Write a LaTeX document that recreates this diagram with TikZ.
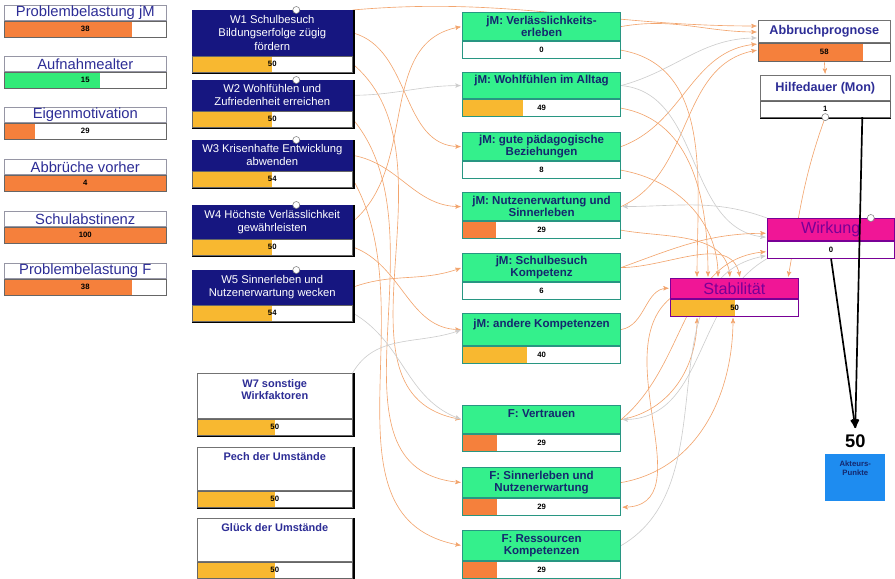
\documentclass[tikz,border=0pt]{standalone}
\usepackage{fontspec}
\setmainfont{Liberation Sans}
\usetikzlibrary{arrows, calc, backgrounds}
\definecolor{wnavy}{RGB}{22,22,128}
\definecolor{titlenavy}{RGB}{45,45,150}
\definecolor{jmgreen}{RGB}{52,240,140}
\definecolor{jmteal}{RGB}{40,150,130}
\definecolor{jmtext}{RGB}{20,40,110}
\definecolor{magbox}{RGB}{240,22,150}
\definecolor{magtext}{RGB}{120,0,150}
\definecolor{barorange}{RGB}{245,128,60}
\definecolor{baryellow}{RGB}{248,184,48}
\definecolor{bargreen}{RGB}{50,235,120}
\definecolor{apblue}{RGB}{30,140,240}
\definecolor{linkorange}{RGB}{242,165,110}
\definecolor{linkgray}{RGB}{205,205,205}
\definecolor{boxgray}{RGB}{150,150,165}
% box = title node (#1) + value row (#1v)
\newcommand\kbox[9]{%
  \node[#2, anchor=north west, minimum width=#5*0.025cm, minimum height=#6*0.025cm] (#1) at (#3,#4) {#7};
  \node[valrow, #8, anchor=north west, minimum width=#5*0.025cm] (#1v) at (#1.south west) {#9};}
\tikzset{lefttitle/.style={rectangle, draw=boxgray, fill=white, text=titlenavy, inner sep=0pt, font=\fontsize{10.5}{11}\selectfont}}
\tikzset{wtitle/.style={rectangle, draw=wnavy, fill=wnavy, text=white, inner sep=0pt, align=center, font=\fontsize{8}{9.4}\selectfont}}
\tikzset{jmtitle/.style={rectangle, draw=jmteal, line width=0.8pt, fill=jmgreen, text=jmtext, inner sep=0pt, align=center, font=\fontsize{8.2}{8.9}\selectfont\bfseries}}
\tikzset{whitetitle/.style={rectangle, draw=black!55, fill=white, text=titlenavy, inner sep=0pt, align=center, font=\fontsize{7.8}{8.8}\selectfont\bfseries}}
\tikzset{magtitle/.style={rectangle, draw=magtext, fill=magbox, text=magtext, inner sep=0pt, font=\fontsize{11.5}{12}\selectfont}}
\tikzset{valrow/.style={rectangle, draw=black!60, fill=white, inner sep=0pt, minimum height=16*0.025cm, font=\fontsize{5.5}{6}\selectfont\bfseries}}
\tikzset{jmrow/.style={draw=jmteal, line width=0.8pt, minimum height=17*0.025cm}}
\tikzset{magrow/.style={draw=magtext, line width=0.8pt, minimum height=17*0.025cm}}
\tikzset{bar/.style 2 args={path picture={\fill[#1] (path picture bounding box.south west) rectangle ($(path picture bounding box.north west)!#2!(path picture bounding box.north east)$);}}}
\tikzset{inf/.style={->, >=stealth', draw=linkorange, line width=0.45pt, shorten >=1pt}}
\tikzset{infg/.style={inf, draw=linkgray}}
\tikzset{handle/.style={circle, draw=black!50, fill=white, inner sep=0pt, minimum size=5pt}}
\tikzset{shadowline/.style={black, line width=1.3pt}}
\tikzset{apnum/.style={rectangle, fill=white, inner sep=0pt, minimum width=60*0.025cm, minimum height=25*0.025cm, font=\fontsize{13}{14}\selectfont\bfseries}}
\tikzset{apbox/.style={rectangle, fill=apblue, text=jmtext, inner sep=0pt, align=center, minimum width=60*0.025cm, minimum height=47*0.025cm, font=\fontsize{5.5}{6.5}\selectfont\bfseries}}
\begin{document}
\begin{tikzpicture}[x=0.025cm, y=-0.025cm]
	\useasboundingbox (0,0) rectangle (895,579);
	% left column
	\kbox{PJ}{lefttitle}{4}{5}{162}{15}{Problembelastung jM}{bar={barorange}{.79}}{38}
	\kbox{AA}{lefttitle}{4}{56}{162}{15}{Aufnahmealter}{bar={bargreen}{.59}}{15}
	\kbox{EM}{lefttitle}{4}{107}{162}{15}{Eigenmotivation}{bar={barorange}{.19}}{29}
	\kbox{AV}{lefttitle}{4}{159}{162}{15}{Abbrüche vorher}{bar={barorange}{1}}{4}
	\kbox{SA}{lefttitle}{4}{211}{162}{15}{Schulabstinenz}{bar={barorange}{1}}{100}
	\kbox{PF}{lefttitle}{4}{263}{162}{15}{Problembelastung F}{bar={barorange}{.79}}{38}
	% W boxes
	\kbox{W1}{wtitle}{192}{10}{160}{45}{W1 Schulbesuch\\Bildungserfolge zügig\\fördern}{bar={baryellow}{.5}}{50}
	\kbox{W2}{wtitle}{192}{80}{160}{30}{W2 Wohlfühlen und\\Zufriedenheit erreichen}{bar={baryellow}{.5}}{50}
	\kbox{W3}{wtitle}{192}{140}{160}{30}{W3 Krisenhafte Entwicklung\\abwenden}{bar={baryellow}{.5}}{54}
	\kbox{W4}{wtitle}{192}{205}{160}{33}{W4 Höchste Verlässlichkeit\\gewährleisten}{bar={baryellow}{.5}}{50}
	\kbox{W5}{wtitle}{192}{270}{160}{34}{W5 Sinnerleben und\\Nutzenerwartung wecken}{bar={baryellow}{.5}}{54}
	\kbox{W7}{whitetitle}{197}{373}{155}{45}{W7 sonstige\\Wirkfaktoren\\~}{bar={baryellow}{.5}}{50}
	\kbox{PU}{whitetitle}{197}{447}{155}{43}{Pech der Umstände\\~\\~}{bar={baryellow}{.5}}{50}
	\kbox{GU}{whitetitle}{197}{518}{155}{43}{Glück der Umstände\\~\\~}{bar={baryellow}{.5}}{50}
	% jM and F boxes
	\kbox{jMV}{jmtitle}{462}{12}{158}{28}{jM: Verlässlichkeits-\\erleben}{jmrow}{0}
	\kbox{jMW}{jmtitle}{462}{72}{158}{26}{jM: Wohlfühlen im Alltag\\~}{jmrow, bar={baryellow}{.38}}{49}
	\kbox{jMB}{jmtitle}{462}{132}{158}{28}{jM: gute pädagogische\\Beziehungen}{jmrow}{8}
	\kbox{jMN}{jmtitle}{462}{192}{158}{28}{jM: Nutzenerwartung und\\Sinnerleben}{jmrow, bar={barorange}{.21}}{29}
	\kbox{jMS}{jmtitle}{462}{253}{158}{28}{jM: Schulbesuch\\Kompetenz}{jmrow}{6}
	\kbox{jMA}{jmtitle}{462}{313}{158}{32}{jM: andere Kompetenzen\\~}{jmrow, bar={baryellow}{.41}}{40}
	\kbox{FV}{jmtitle}{462}{405}{158}{28}{F: Vertrauen\\~}{jmrow, bar={barorange}{.22}}{29}
	\kbox{FSN}{jmtitle}{462}{467}{158}{30}{F: Sinnerleben und\\Nutzenerwartung}{jmrow, bar={barorange}{.22}}{29}
	\kbox{FR}{jmtitle}{462}{530}{158}{30}{F: Ressourcen\\Kompetenzen}{jmrow, bar={barorange}{.22}}{29}
	% right side
	\kbox{Abbr}{whitetitle, font=\fontsize{9}{10}\selectfont\bfseries}{758}{20}{132}{22}{Abbruchprognose}{bar={barorange}{.79}, minimum height=18*0.025cm}{58}
	\kbox{Hilfe}{whitetitle, font=\fontsize{9}{10}\selectfont\bfseries}{760}{75}{130}{25}{Hilfedauer (Mon)}{}{1}
	\kbox{Wirk}{magtitle}{767}{218}{127}{22}{Wirkung}{magrow}{0}
	\kbox{Stab}{magtitle}{670}{278}{128}{20}{Stabilität}{magrow, bar={baryellow}{.5}}{50}
	\node[apnum, anchor=north west] (AP) at (825,428) {50};
	\node[apbox, anchor=north west] (APb) at (AP.south west) {Akteurs-\\Punkte\\~\\~};
	% shadows and handles
	\foreach \n in {W1,W2,W3,W4,W5,W7,PU,GU}
		\draw[shadowline] ([xshift=1pt]\n.north east) -- ([xshift=1pt,yshift=-1pt]\n v.south east) -- ([yshift=-1pt]\n v.south west);
	\draw[shadowline] ([yshift=-1pt]Hilfev.south west) -- ([yshift=-1pt]Hilfev.south east);
	\foreach \n in {W1,W2,W3,W4,W5}
		\node[handle] at ([xshift=0.6cm]\n.north) {};
	\node[handle] at (Hilfev.south) {};
	\node[handle] at ([xshift=1cm]Wirk.north) {};
	% influences
	\begin{scope}[on background layer]
	\draw[inf] (W1.north east) to[out=5,in=180] ([yshift=-0.15cm]Abbr.north west);
	\draw[inf] (jMV.east) to[out=10,in=180] ([yshift=-0.3cm]Abbr.north west);
	\draw[infg] (jMW.east) to[out=15,in=180] ([yshift=-0.45cm]Abbr.north west);
	\draw[inf] (jMB.east) to[out=20,in=185] ([yshift=-0.6cm]Abbr.north west);
	\draw[inf] (jMN.east) to[out=25,in=190] ([yshift=-0.75cm]Abbr.north west);
	\draw[inf] (Abbrv.south) -- (Hilfe.north);
	\draw[inf] (Hilfev.south) to[out=-110,in=80] ([xshift=2.95cm]Stab.north west);
	\draw[inf] (jMVv.east) to[out=-10,in=90] ([xshift=0.675cm]Stab.north west);
	\draw[inf] (jMWv.east) to[out=-10,in=90] ([xshift=0.95cm]Stab.north west);
	\draw[inf] (jMBv.east) to[out=-10,in=90] ([xshift=1.2cm]Stab.north west);
	\draw[inf] (jMNv.east) to[out=-10,in=95] ([xshift=1.5cm]Stab.north west);
	\draw[inf] (jMS.east) to[out=0,in=100] ([xshift=1.75cm]Stab.north west);
	\draw[inf] (jMA.east) to[out=10,in=180] (Stab.west);
	\draw[inf] (FV.east) to[out=10,in=-90] ([xshift=0.675cm]Stabv.south west);
	\draw[inf] (FSN.east) to[out=10,in=-90] ([xshift=1.575cm]Stabv.south west);
	\draw[infg] (jMW.east) to[out=-5,in=175] ([yshift=-0.2cm]Wirk.west);
	\draw[inf] (jMS.east) to[out=20,in=180] ([yshift=-0.1cm]Wirk.west);
	\draw[inf] (FV.east) to[out=40,in=185] ([yshift=-0.05cm]Wirkv.west);
	\draw[infg] (FR.east) to[out=30,in=190] ([yshift=-0.15cm]Wirkv.west);
	\draw[infg] (Wirk.north west) to[out=160,in=0] (jMN.east);
	\draw[inf] (Stab.south west) to[out=220,in=0] (FSNv.east);
	\draw[infg] (Wirkv.south west) to[out=210,in=0] (FV.east);
	\draw[inf] (W1.east) to[out=-15,in=180] (jMB.west);
	\draw[inf] (W1v.east) to[out=-40,in=170] (FV.west);
	\draw[infg] (W2.east) to[out=0,in=180] (jMW.west);
	\draw[inf] (W2v.east) to[out=-50,in=175] (FSN.west);
	\draw[inf] (W3.east) to[out=-10,in=180] (jMN.west);
	\draw[inf] (W3v.east) to[out=-60,in=170] (FR.west);
	\draw[inf] (W4.east) to[out=40,in=190] (jMV.west);
	\draw[inf] (W4v.east) to[out=-20,in=180] (jMA.west);
	\draw[inf] (W5.east) to[out=20,in=200] (jMS.west);
	\draw[infg] (W5v.east) to[out=-30,in=160] (FV.west);
	\draw[infg] (W7.north east) to[out=60,in=200] (jMA.west);
	\end{scope}
	% Akteurs-Punkte
	\draw[->, >=stealth', line width=1.2pt] (Wirkv.south) -- (AP.north);
	\draw[->, >=stealth', line width=1.2pt] ([xshift=0.925cm]Hilfev.south) -- (AP.north);
\end{tikzpicture}
\end{document}
